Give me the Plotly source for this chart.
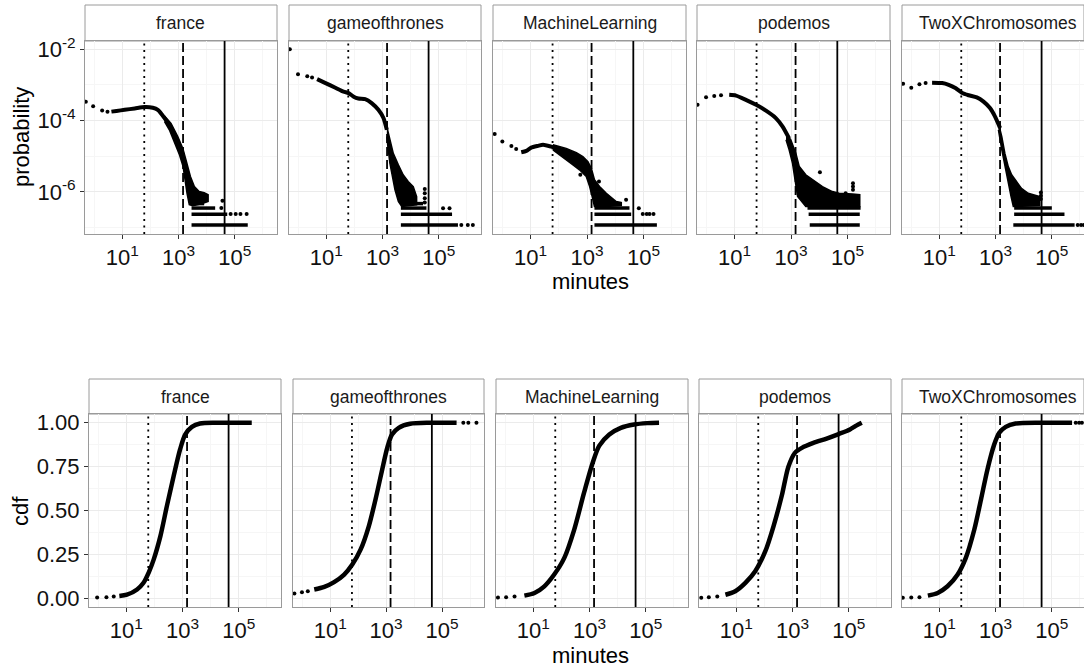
import plotly.graph_objects as go

W, H = 1084, 671

SUBREDDITS = ["france", "gameofthrones", "MachineLearning", "podemos", "TwoXChromosomes"]

# reference durations in minutes: one hour, one day, thirty days
REF_HOUR = 60
REF_DAY = 1440
REF_MONTH = 43200

# probability carried by a gap length that was observed exactly once
PROB_UNIT = 1.175e-7

# ---------------- probability density (log10 minutes, log10 probability) ----------------
# sparse leading points
france_pdf_sparse_lx = [-0.30, -0.04, 0.28, 0.47]
france_pdf_sparse_ly = [-3.47, -3.60, -3.72, -3.75]
got_pdf_sparse_lx = [-0.30, -0.01, 0.32, 0.49]
got_pdf_sparse_ly = [-2.00, -2.70, -2.76, -2.79]
ml_pdf_sparse_lx = [-0.27, 0.00, 0.32, 0.49]
ml_pdf_sparse_ly = [-4.38, -4.59, -4.71, -4.80]
podemos_pdf_sparse_lx = [-0.31, -0.01, 0.28, 0.52]
podemos_pdf_sparse_ly = [-3.56, -3.35, -3.31, -3.29]
twox_pdf_sparse_lx = [-0.29, 0.00, 0.29, 0.51]
twox_pdf_sparse_ly = [-2.97, -3.08, -2.98, -2.95]

# dense part of the density
france_pdf_lx = [0.61, 0.79, 1.08, 1.44, 1.79, 2.08, 2.26, 2.50, 2.73, 2.97, 3.15]
france_pdf_ly = [-3.75, -3.73, -3.70, -3.66, -3.62, -3.64, -3.70, -3.93, -4.21, -4.59, -4.96]
got_pdf_lx = [0.67, 0.97, 1.32, 1.61, 1.79, 1.97, 2.14, 2.38, 2.61, 2.85, 3.03, 3.15]
got_pdf_ly = [-2.84, -2.95, -3.08, -3.19, -3.23, -3.33, -3.38, -3.40, -3.51, -3.70, -3.93, -4.26]
ml_pdf_lx = [0.67, 0.85, 1.02, 1.26, 1.44, 1.73, 2.03]
ml_pdf_ly = [-4.89, -4.85, -4.76, -4.71, -4.68, -4.73, -4.80]
podemos_pdf_lx = [0.81, 1.05, 1.40, 1.76, 2.11, 2.46, 2.70, 2.93]
podemos_pdf_ly = [-3.28, -3.30, -3.42, -3.56, -3.72, -3.93, -4.17, -4.50]
twox_pdf_lx = [0.74, 1.10, 1.33, 1.57, 1.80, 2.04, 2.33, 2.57, 2.80, 2.98, 3.16]
twox_pdf_ly = [-2.94, -2.95, -3.00, -3.09, -3.22, -3.29, -3.35, -3.47, -3.65, -3.89, -4.21]

# outline of the noisy tail (upper edge then lower edge)
france_cloud_lx = [2.50, 2.73, 2.97, 3.15, 3.26, 3.42, 3.56, 3.73, 3.91, 4.05,
                   4.05, 3.79, 3.50, 3.38, 3.30, 3.23, 3.16, 3.03, 2.85, 2.67, 2.50]
france_cloud_ly = [-3.87, -4.08, -4.45, -4.78, -5.10, -5.57, -5.85, -5.99, -6.02, -6.08,
                   -6.27, -6.34, -6.39, -6.36, -6.04, -5.66, -5.29, -4.96, -4.59, -4.26, -4.03]
got_cloud_lx = [3.15, 3.26, 3.38, 3.56, 3.73, 3.91, 4.09, 4.21,
                4.21, 3.91, 3.68, 3.56, 3.44, 3.35, 3.26, 3.20, 3.15]
got_cloud_ly = [-4.17, -4.54, -4.92, -5.24, -5.52, -5.71, -5.85, -6.13,
                -6.36, -6.39, -6.41, -6.27, -5.94, -5.57, -5.20, -4.82, -4.45]
ml_cloud_lx = [1.79, 2.26, 2.62, 2.85, 3.03, 3.15, 3.26, 3.44, 3.68, 4.03, 4.21,
               4.21, 3.68, 3.26, 3.18, 3.09, 2.97, 2.73, 2.50, 2.26, 2.03, 1.79]
ml_cloud_ly = [-4.68, -4.78, -4.90, -5.01, -5.15, -5.34, -5.66, -5.85, -6.04, -6.27, -6.30,
               -6.38, -6.41, -6.41, -6.13, -5.85, -5.57, -5.38, -5.24, -5.10, -4.96, -4.82]
podemos_cloud_lx = [2.82, 2.99, 3.17, 3.29, 3.52, 3.76, 4.11, 4.46, 4.70, 5.17, 5.43,
                    5.43, 4.11, 3.52, 3.23, 3.14, 3.05, 2.93, 2.82]
podemos_cloud_ly = [-4.36, -4.54, -4.92, -5.29, -5.52, -5.66, -5.85, -5.99, -6.04, -6.06, -6.08,
                    -6.41, -6.41, -6.41, -6.13, -5.66, -5.20, -4.82, -4.54]
twox_cloud_lx = [3.10, 3.22, 3.33, 3.45, 3.57, 3.75, 3.92, 4.16, 4.39, 4.57,
                 4.57, 3.92, 3.63, 3.55, 3.43, 3.31, 3.22, 3.10]
twox_cloud_ly = [-4.07, -4.45, -4.92, -5.29, -5.52, -5.71, -5.90, -6.04, -6.08, -6.13,
                 -6.38, -6.41, -6.41, -6.13, -5.66, -5.20, -4.82, -4.26]

# runs of gap lengths seen exactly k times: (k, log10 start, log10 end)
france_bands = [(1, 3.46, 5.46), (2, 3.46, 4.73), (3, 3.46, 4.30), (4, 3.50, 3.91)]
got_bands = [(1, 3.65, 5.68), (2, 3.65, 5.47), (3, 3.65, 4.56), (4, 3.68, 4.44)]
ml_bands = [(1, 3.26, 5.47), (2, 3.26, 4.56), (3, 3.26, 4.50), (4, 3.26, 4.21)]
podemos_bands = [(1, 3.66, 5.43), (2, 3.62, 5.43), (3, 3.58, 5.46)]
twox_bands = [(1, 3.63, 5.81), (2, 3.66, 5.45), (3, 3.66, 5.00), (4, 3.66, 4.50)]

# isolated observations
france_stray_lx = [4.85, 5.03, 5.20, 5.42, 4.52, 4.56]
france_stray_ly = [-6.62, -6.62, -6.62, -6.62, -6.45, -6.25]
got_stray_lx = [4.50, 4.50, 4.50, 4.50, 5.15, 5.38, 5.80, 6.03, 6.21]
got_stray_ly = [-5.92, -6.04, -6.18, -6.30, -6.46, -6.46, -6.93, -6.93, -6.93]
ml_stray_lx = [2.76, 3.42, 4.38, 4.83, 4.97, 5.11, 5.21, 5.35]
ml_stray_ly = [-5.52, -5.71, -6.22, -6.46, -6.62, -6.62, -6.62, -6.62]
podemos_stray_lx = [4.02, 5.19, 5.19, 5.19, 4.93]
podemos_stray_ly = [-5.45, -5.76, -5.85, -5.94, -6.04]
twox_stray_lx = [4.61, 4.61, 4.61, 5.92, 6.04, 6.14]
twox_stray_ly = [-6.02, -6.11, -6.20, -6.93, -6.93, -6.93]

# ---------------- cumulative distribution (log10 minutes, cdf) ----------------
france_cdf_sparse_lx = [-0.04, 0.29, 0.55]
france_cdf_sparse_y = [0.004, 0.006, 0.010]
got_cdf_sparse_lx = [-0.28, -0.01, 0.20]
got_cdf_sparse_y = [0.027, 0.034, 0.040]
ml_cdf_sparse_lx = [-0.26, 0.03, 0.33]
ml_cdf_sparse_y = [0.004, 0.005, 0.010]
podemos_cdf_sparse_lx = [-0.25, 0.02, 0.32]
podemos_cdf_sparse_y = [0.003, 0.005, 0.010]
twox_cdf_sparse_lx = [-0.30, 0.00, 0.29]
twox_cdf_sparse_y = [0.003, 0.004, 0.006]

france_cdf_lx = [0.75, 1.02, 1.38, 1.61, 1.79, 1.97, 2.21, 2.44, 2.68, 2.91, 3.09, 3.33, 3.62, 4.22, 5.46]
france_cdf_y = [0.013, 0.02, 0.05, 0.088, 0.145, 0.22, 0.354, 0.525, 0.695, 0.848, 0.933, 0.977, 0.996, 1.0, 1.0]
got_cdf_lx = [0.43, 0.79, 1.14, 1.50, 1.79, 2.09, 2.38, 2.62, 2.86, 3.04, 3.21, 3.45, 3.86, 4.57, 5.52]
got_cdf_y = [0.05, 0.065, 0.092, 0.135, 0.192, 0.278, 0.41, 0.563, 0.734, 0.857, 0.933, 0.971, 0.994, 1.0, 1.0]
ml_cdf_lx = [0.68, 1.04, 1.39, 1.74, 2.10, 2.45, 2.80, 3.11, 3.34, 3.70, 4.11, 4.58, 5.05, 5.47]
ml_cdf_y = [0.015, 0.03, 0.068, 0.135, 0.23, 0.39, 0.60, 0.772, 0.868, 0.933, 0.971, 0.99, 0.998, 1.0]
podemos_cdf_lx = [0.61, 0.96, 1.32, 1.67, 2.03, 2.32, 2.62, 2.85, 3.09, 3.33, 3.74, 4.21, 4.66, 5.04, 5.28, 5.46]
podemos_cdf_y = [0.02, 0.04, 0.088, 0.154, 0.268, 0.41, 0.588, 0.75, 0.83, 0.857, 0.885, 0.91, 0.937, 0.962, 0.985, 1.0]
twox_cdf_lx = [0.59, 0.94, 1.29, 1.65, 1.94, 2.24, 2.48, 2.71, 2.95, 3.13, 3.36, 3.71, 4.77, 5.72]
twox_cdf_y = [0.015, 0.03, 0.068, 0.135, 0.23, 0.39, 0.563, 0.734, 0.876, 0.943, 0.977, 0.996, 1.0, 1.0]

got_cdf_tail_lx = [5.76, 5.94, 6.23]
twox_cdf_tail_lx = [5.85, 5.97, 6.07]

# tick labels
X_TICKS = [10, 1000, 100000]
X_TICKTEXT = ["10<sup>1</sup>", "10<sup>3</sup>", "10<sup>5</sup>"]
PDF_TICKS = [1e-6, 1e-4, 1e-2]
PDF_TICKTEXT = ["10<sup>-6</sup>", "10<sup>-4</sup>", "10<sup>-2</sup>"]
CDF_TICKS = [0, 0.25, 0.5, 0.75, 1.0]
CDF_TICKTEXT = ["0.00", "0.25", "0.50", "0.75", "1.00"]

PDF = {
    "france": dict(sx=france_pdf_sparse_lx, sy=france_pdf_sparse_ly, cx=france_pdf_lx, cy=france_pdf_ly,
                   ox=france_cloud_lx, oy=france_cloud_ly, bands=france_bands,
                   tx=france_stray_lx, ty=france_stray_ly),
    "gameofthrones": dict(sx=got_pdf_sparse_lx, sy=got_pdf_sparse_ly, cx=got_pdf_lx, cy=got_pdf_ly,
                          ox=got_cloud_lx, oy=got_cloud_ly, bands=got_bands,
                          tx=got_stray_lx, ty=got_stray_ly),
    "MachineLearning": dict(sx=ml_pdf_sparse_lx, sy=ml_pdf_sparse_ly, cx=ml_pdf_lx, cy=ml_pdf_ly,
                            ox=ml_cloud_lx, oy=ml_cloud_ly, bands=ml_bands,
                            tx=ml_stray_lx, ty=ml_stray_ly),
    "podemos": dict(sx=podemos_pdf_sparse_lx, sy=podemos_pdf_sparse_ly, cx=podemos_pdf_lx, cy=podemos_pdf_ly,
                    ox=podemos_cloud_lx, oy=podemos_cloud_ly, bands=podemos_bands,
                    tx=podemos_stray_lx, ty=podemos_stray_ly),
    "TwoXChromosomes": dict(sx=twox_pdf_sparse_lx, sy=twox_pdf_sparse_ly, cx=twox_pdf_lx, cy=twox_pdf_ly,
                            ox=twox_cloud_lx, oy=twox_cloud_ly, bands=twox_bands,
                            tx=twox_stray_lx, ty=twox_stray_ly),
}
CDF = {
    "france": dict(sx=france_cdf_sparse_lx, sy=france_cdf_sparse_y, cx=france_cdf_lx, cy=france_cdf_y, tail=[]),
    "gameofthrones": dict(sx=got_cdf_sparse_lx, sy=got_cdf_sparse_y, cx=got_cdf_lx, cy=got_cdf_y, tail=got_cdf_tail_lx),
    "MachineLearning": dict(sx=ml_cdf_sparse_lx, sy=ml_cdf_sparse_y, cx=ml_cdf_lx, cy=ml_cdf_y, tail=[]),
    "podemos": dict(sx=podemos_cdf_sparse_lx, sy=podemos_cdf_sparse_y, cx=podemos_cdf_lx, cy=podemos_cdf_y, tail=[]),
    "TwoXChromosomes": dict(sx=twox_cdf_sparse_lx, sy=twox_cdf_sparse_y, cx=twox_cdf_lx, cy=twox_cdf_y, tail=twox_cdf_tail_lx),
}


def p10(vals):
    return [None if v is None else 10 ** v for v in vals]


# ---------------- layout geometry (pixels) ----------------
TOP_X = [(85, 277), (289, 481), (493, 686), (697, 890), (902, 1094)]
BOT_X = [(89, 281), (293, 484), (496, 688), (699, 891), (902, 1094)]
TOP_PLOT, TOP_STRIP = (41, 234), (5, 41)
BOT_PLOT, BOT_STRIP = (414, 607), (379, 414)
X_LOG_RANGE = (-0.33, 6.50)
PDF_LOG_RANGE = (-7.18, -1.77)
CDF_RANGE = (-0.05, 1.05)

FONT = "Liberation Sans, Arial, Helvetica, sans-serif"
INK = "#000000"
BORDER = "#9a9a9a"
GRID_MAJOR = "#EBEBEB"
GRID_MINOR = "#F6F6F6"


def px_x(p):
    return p / W


def px_y(p):
    return 1 - p / H


fig = go.Figure()
layout = dict(
    width=W, height=H, margin=dict(l=0, r=0, t=0, b=0, pad=0, autoexpand=False),
    paper_bgcolor="white", plot_bgcolor="white", showlegend=False,
    font=dict(family=FONT, color=INK),
)
shapes, annotations = [], []


def x_axis(x0, x1, anchor):
    vis = min(x1, W)
    lo, hi = X_LOG_RANGE
    end = lo + (hi - lo) * (vis - x0) / (x1 - x0)
    return dict(
        domain=[px_x(x0), px_x(vis)], anchor=anchor, type="log", range=[lo, end],
        tickmode="array", tickvals=X_TICKS, ticktext=X_TICKTEXT,
        ticks="outside", ticklen=4, tickwidth=1, tickcolor="#333333",
        tickfont=dict(size=22, family=FONT, color="#111111"),
        showline=True, mirror=True, linecolor=BORDER, linewidth=1,
        showgrid=True, gridcolor=GRID_MAJOR, gridwidth=1, zeroline=False,
        minor=dict(tickmode="array", tickvals=[1, 100, 1e4, 1e6], showgrid=True,
                   gridcolor=GRID_MINOR, gridwidth=1, ticklen=0),
        fixedrange=True,
    )


def vlines(xa, ya, y_lo, y_hi):
    for v, dash in ((REF_HOUR, "2px,4.5px"), (REF_DAY, "9px,4px"), (REF_MONTH, "solid")):
        fig.add_trace(go.Scatter(x=[v, v], y=[y_lo, y_hi], mode="lines", xaxis=xa, yaxis=ya,
                                 line=dict(color=INK, width=1.8, dash=dash), hoverinfo="skip"))


for i, sub in enumerate(SUBREDDITS):
    # ---------- top row: probability ----------
    n = i + 1
    xa, ya = f"x{n if n > 1 else ''}", f"y{n if n > 1 else ''}"
    x0, x1 = TOP_X[i]
    layout[f"xaxis{n if n > 1 else ''}"] = x_axis(x0, x1, ya)
    layout[f"yaxis{n if n > 1 else ''}"] = dict(
        domain=[px_y(TOP_PLOT[1]), px_y(TOP_PLOT[0])], anchor=xa, type="log",
        range=list(PDF_LOG_RANGE), tickmode="array", tickvals=PDF_TICKS, ticktext=PDF_TICKTEXT,
        showticklabels=(i == 0), ticks="outside" if i == 0 else "", ticklen=4, tickwidth=1,
        tickcolor="#333333", tickfont=dict(size=22, family=FONT, color="#111111"),
        showline=True, mirror=True, linecolor=BORDER, linewidth=1,
        showgrid=True, gridcolor=GRID_MAJOR, gridwidth=1, zeroline=False,
        minor=dict(tickmode="array", tickvals=[1e-7, 1e-5, 1e-3], showgrid=True,
                   gridcolor=GRID_MINOR, gridwidth=1, ticklen=0),
        fixedrange=True,
    )
    d = PDF[sub]
    vlines(xa, ya, 10 ** PDF_LOG_RANGE[0], 10 ** PDF_LOG_RANGE[1])
    fig.add_trace(go.Scatter(x=p10(d["ox"]), y=p10(d["oy"]), mode="lines", fill="toself",
                             fillcolor=INK, line=dict(color=INK, width=1.5), xaxis=xa, yaxis=ya,
                             hoverinfo="skip"))
    bx, by = [], []
    for k, a, b in d["bands"]:
        bx += [10 ** a, 10 ** b, None]
        by += [k * PROB_UNIT, k * PROB_UNIT, None]
    fig.add_trace(go.Scatter(x=bx, y=by, mode="lines", line=dict(color=INK, width=3.5),
                             xaxis=xa, yaxis=ya, hoverinfo="skip"))
    fig.add_trace(go.Scatter(x=p10(d["cx"]), y=p10(d["cy"]), mode="lines",
                             line=dict(color=INK, width=4, shape="spline", smoothing=0.6),
                             xaxis=xa, yaxis=ya, hoverinfo="skip"))
    fig.add_trace(go.Scatter(x=p10(d["sx"] + d["tx"]), y=p10(d["sy"] + d["ty"]), mode="markers",
                             marker=dict(color=INK, size=4), xaxis=xa, yaxis=ya, hoverinfo="skip"))
    shapes.append(dict(type="rect", xref="paper", yref="paper",
                       x0=px_x(x0), x1=px_x(min(x1, W)), y0=px_y(TOP_STRIP[1]), y1=px_y(TOP_STRIP[0]),
                       fillcolor="white", line=dict(color=BORDER, width=1), layer="below"))
    annotations.append(dict(text=sub, xref="paper", yref="paper", x=px_x((x0 + x1) / 2),
                            y=px_y(sum(TOP_STRIP) / 2), showarrow=False, xanchor="center",
                            yanchor="middle", font=dict(size=17.5, family=FONT, color="#1a1a1a")))

    # ---------- bottom row: cdf ----------
    n = i + 6
    xa, ya = f"x{n}", f"y{n}"
    x0, x1 = BOT_X[i]
    layout[f"xaxis{n}"] = x_axis(x0, x1, ya)
    layout[f"yaxis{n}"] = dict(
        domain=[px_y(BOT_PLOT[1]), px_y(BOT_PLOT[0])], anchor=xa,
        range=list(CDF_RANGE), tickmode="array", tickvals=CDF_TICKS, ticktext=CDF_TICKTEXT,
        showticklabels=(i == 0), ticks="outside" if i == 0 else "", ticklen=4, tickwidth=1,
        tickcolor="#333333", tickfont=dict(size=22, family=FONT, color="#111111"),
        showline=True, mirror=True, linecolor=BORDER, linewidth=1,
        showgrid=True, gridcolor=GRID_MAJOR, gridwidth=1, zeroline=False,
        minor=dict(tickmode="array", tickvals=[0.125, 0.375, 0.625, 0.875], showgrid=True,
                   gridcolor=GRID_MINOR, gridwidth=1, ticklen=0),
        fixedrange=True,
    )
    c = CDF[sub]
    vlines(xa, ya, CDF_RANGE[0], CDF_RANGE[1])
    fig.add_trace(go.Scatter(x=p10(c["cx"]), y=c["cy"], mode="lines",
                             line=dict(color=INK, width=4.5, shape="spline", smoothing=0.8),
                             xaxis=xa, yaxis=ya, hoverinfo="skip"))
    fig.add_trace(go.Scatter(x=p10(c["sx"] + c["tail"]), y=c["sy"] + [1.0] * len(c["tail"]),
                             mode="markers", marker=dict(color=INK, size=4),
                             xaxis=xa, yaxis=ya, hoverinfo="skip"))
    shapes.append(dict(type="rect", xref="paper", yref="paper",
                       x0=px_x(x0), x1=px_x(min(x1, W)), y0=px_y(BOT_STRIP[1]), y1=px_y(BOT_STRIP[0]),
                       fillcolor="white", line=dict(color=BORDER, width=1), layer="below"))
    annotations.append(dict(text=sub, xref="paper", yref="paper", x=px_x((x0 + x1) / 2),
                            y=px_y(sum(BOT_STRIP) / 2), showarrow=False, xanchor="center",
                            yanchor="middle", font=dict(size=17.5, family=FONT, color="#1a1a1a")))

# axis titles
for text, x, y, ang in (("probability", 22, 137, -90), ("cdf", 20, 511, -90),
                        ("minutes", 590, 282, 0), ("minutes", 590, 655, 0)):
    annotations.append(dict(text=text, xref="paper", yref="paper", x=px_x(x), y=px_y(y),
                            showarrow=False, xanchor="center", yanchor="middle", textangle=ang,
                            font=dict(size=22, family=FONT, color=INK)))

layout["shapes"] = shapes
layout["annotations"] = annotations
fig.update_layout(**layout)
fig.write_html("out.html")
